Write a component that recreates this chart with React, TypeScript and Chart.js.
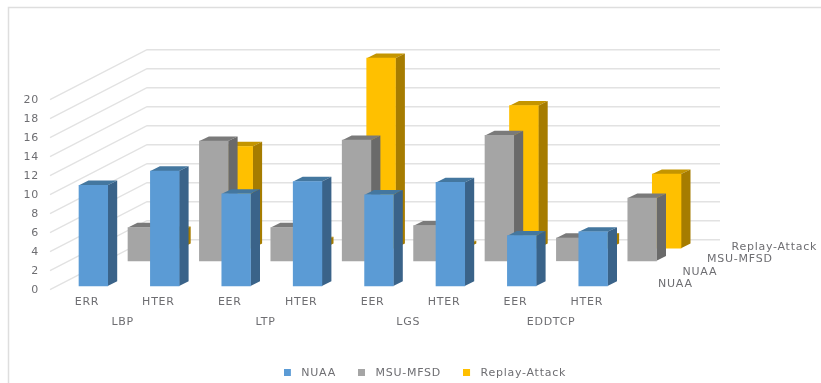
import React, { useEffect, useRef } from "react";
import { Chart, registerables } from "chart.js";

Chart.register(...registerables);

// Chart values
const categories = ["ERR", "HTER", "EER", "HTER", "EER", "HTER", "EER", "HTER"];
const groups = ["LBP", "LTP", "LGS", "EDDTCP"];
const nuaa = [10.6, 12.1, 9.7, 11, 9.6, 10.9, 5.3, 5.7];
const msuMfsd = [3.5, 12.6, 3.5, 12.7, 3.7, 13.2, 2.4, 6.6];
const replayAttack = [1.8, 10.7, 0.7, 20, 0.3, 15, 1.1, 7.8];
const depthLabels = ["NUAA", "NUAA", "MSU-MFSD", "Replay-Attack"];

// Drawing constants for the oblique projection
const W = 821;
const H = 383;
const AREA = { left: 57.65, right: 628.85, top: 96, bottom: 286 };
const SLOT_DX = 24.5;
const SLOT_DY = -12.6;
const WALL_DX = 97;
const WALL_DY = -50;
const BAR_DX = 9.5;
const BAR_DY = -4.7;
const TEXT = "#6e6e72";
const FONT = "DejaVu Sans";
const FONT_SIZE = 11;
const GRID = "#e2e2e2";
const LABEL_SHIFT = -6.35;

type Shade = { front: string; top: string; side: string; slot: number };
const shades: Shade[] = [
  { front: "#5b9bd5", top: "#44779f", side: "#3a6389", slot: 0 },
  { front: "#a5a5a5", top: "#7a7a7a", side: "#6a6a6a", slot: 2 },
  { front: "#ffc000", top: "#c49500", side: "#a67c00", slot: 3 },
];

// Legend swatch: a 7px square on a wider transparent strip, which widens the gap before the text
function swatch(color: string): HTMLCanvasElement {
  const c = document.createElement("canvas");
  c.width = 12;
  c.height = 7;
  const g = c.getContext("2d")!;
  g.fillStyle = color;
  g.fillRect(0, 0, 7, 7);
  return c;
}

const spacing = (chart: any) => {
  chart.ctx.letterSpacing = "0.75px";
};

const projection = {
  id: "projection",
  beforeUpdate: spacing,
  beforeLayout: spacing,
  afterLayout(chart: any) {
    const lg = chart.legend;
    const h = lg.height;
    lg.left = 0;
    lg.right = 850;
    lg.top = 373 - 21 - (FONT_SIZE * 1.2) / 2;
    lg.bottom = lg.top + h;
  },
  beforeDraw(chart: any) {
    spacing(chart);
    const { ctx, scales } = chart;
    const y = scales.y;
    const x = scales.x;
    ctx.save();

    // Outer frame
    ctx.strokeStyle = "#dedede";
    ctx.lineWidth = 1.5;
    ctx.beginPath();
    ctx.moveTo(8.5, H);
    ctx.lineTo(8.5, 7.5);
    ctx.lineTo(W, 7.5);
    ctx.stroke();

    // Side wall and back wall grid
    const frontX = 50;
    const frontDrop = 3.7;
    ctx.strokeStyle = GRID;
    ctx.lineWidth = 1.4;
    for (const t of y.ticks) {
      const py = y.getPixelForValue(t.value) + frontDrop;
      ctx.beginPath();
      ctx.moveTo(frontX, py);
      ctx.lineTo(frontX + WALL_DX, py + WALL_DY);
      ctx.lineTo(720, py + WALL_DY);
      ctx.stroke();
    }

    // Group captions and depth axis captions
    ctx.fillStyle = TEXT;
    ctx.font = `${FONT_SIZE}px "${FONT}"`;
    ctx.textBaseline = "middle";
    ctx.textAlign = "center";
    groups.forEach((g, i) => {
      const mid = (x.getPixelForValue(2 * i) + x.getPixelForValue(2 * i + 1)) / 2;
      ctx.fillText(g, mid + LABEL_SHIFT, 322);
    });
    ctx.textAlign = "left";
    const base = y.getPixelForValue(0);
    depthLabels.forEach((label, slot) => {
      ctx.fillText(label, x.right + 29.2 + slot * SLOT_DX, base - 1.5 + slot * SLOT_DY);
    });
    ctx.restore();
  },
  // Each series sits in its own depth slot: shift it there and add the top and side faces
  beforeDatasetDraw(chart: any, args: any) {
    const { ctx } = chart;
    const shade = shades[args.index];
    ctx.save();
    ctx.translate(shade.slot * SLOT_DX, shade.slot * SLOT_DY);
    for (const el of args.meta.data) {
      const { x, y, base, width } = el.getProps(["x", "y", "base", "width"], true);
      const l = x - width / 2;
      const r = x + width / 2;
      ctx.fillStyle = shade.top;
      ctx.beginPath();
      ctx.moveTo(l, y);
      ctx.lineTo(l + BAR_DX, y + BAR_DY);
      ctx.lineTo(r + BAR_DX, y + BAR_DY);
      ctx.lineTo(r, y);
      ctx.closePath();
      ctx.fill();
      ctx.fillStyle = shade.side;
      ctx.beginPath();
      ctx.moveTo(r, y);
      ctx.lineTo(r + BAR_DX, y + BAR_DY);
      ctx.lineTo(r + BAR_DX, base + BAR_DY);
      ctx.lineTo(r, base);
      ctx.closePath();
      ctx.fill();
    }
  },
  afterDatasetDraw(chart: any) {
    chart.ctx.restore();
  },
};

export default function App() {
  const ref = useRef<HTMLCanvasElement>(null);

  useEffect(() => {
    const font = { family: FONT, size: FONT_SIZE };
    const chart = new Chart(ref.current!, {
      type: "bar",
      data: {
        labels: categories,
        datasets: [
          { label: "NUAA", data: nuaa, backgroundColor: shades[0].front },
          { label: "MSU-MFSD", data: msuMfsd, backgroundColor: shades[1].front },
          { label: "Replay-Attack", data: replayAttack, backgroundColor: shades[2].front },
        ].map((d) => ({ ...d, clip: false as const })),
      },
      options: {
        animation: false,
        responsive: false,
        grouped: false,
        barThickness: 28.7,
        layout: {
          padding: { left: 20, right: W - AREA.right, top: AREA.top, bottom: 0 },
        },
        plugins: {
          tooltip: { enabled: false },
          legend: {
            position: "bottom",
            labels: {
              color: TEXT,
              font,
              padding: 22,
              usePointStyle: true,
              pointStyleWidth: 12,
              boxHeight: 7,
              generateLabels: (c: any) =>
                c.data.datasets.map((d: any, i: number) => ({
                  text: d.label,
                  pointStyle: swatch(shades[i].front),
                  fontColor: TEXT,
                  lineWidth: 0,
                  datasetIndex: i,
                })),
            },
          },
        },
        scales: {
          x: {
            grid: { display: false, drawTicks: false },
            border: { display: false },
            ticks: {
              color: TEXT,
              font,
              padding: 10,
              autoSkip: false,
              maxRotation: 0,
              labelOffset: LABEL_SHIFT,
            },
            afterFit: (s: any) => {
              s.height = H - AREA.bottom - s.chart.legend.height;
            },
          },
          y: {
            min: 0,
            max: 20,
            grid: { display: false, drawTicks: false },
            border: { display: false },
            ticks: {
              color: TEXT,
              font,
              stepSize: 2,
              padding: 18.65,
              labelOffset: 4,
            },
            afterFit: (s: any) => {
              s.width = AREA.left - 20;
            },
          },
        },
      } as any,
      plugins: [projection],
    });
    return () => chart.destroy();
  }, []);

  return (
    <div style={{ position: "absolute", left: 0, top: 0, width: W, height: H, background: "#fff" }}>
      <canvas ref={ref} width={W} height={H} style={{ display: "block" }} />
    </div>
  );
}
